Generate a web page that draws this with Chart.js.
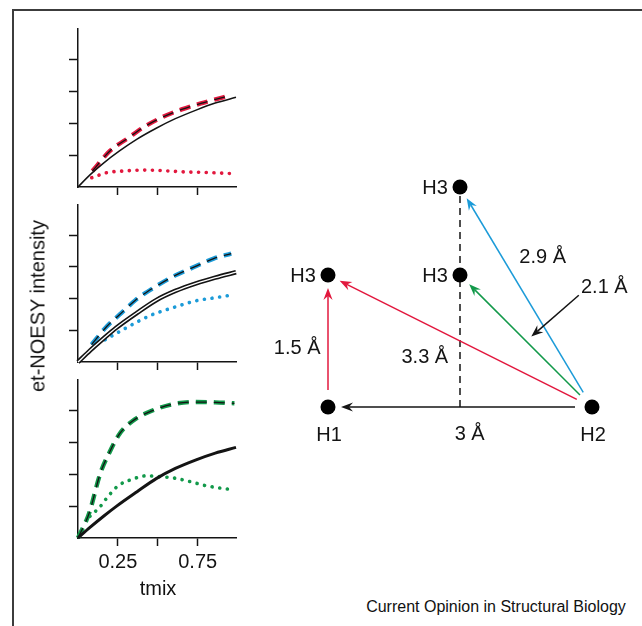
<!DOCTYPE html>
<html>
<head>
<meta charset="utf-8">
<script src="https://cdn.jsdelivr.net/npm/chart.js@4.4.1/dist/chart.umd.min.js"></script>
<style>
  body { margin: 0; background: #fff; width: 642px; height: 626px; overflow: hidden; position: relative;
         font-family: "Liberation Sans", Arial, sans-serif; color: #111; }
  .frame { position: absolute; left: 12px; top: 9px; width: 660px; height: 660px;
           border-left: 2px solid #3c3c3c; border-top: 2px solid #3c3c3c; }
  canvas { position: absolute; }
  .txt { position: absolute; white-space: nowrap; transform: translate(-50%, -50%); }
</style>
</head>
<body>
<div class="frame"></div>
<canvas id="p1"></canvas>
<canvas id="p2"></canvas>
<canvas id="p3"></canvas>
<canvas id="diagram"></canvas>
<div class="txt" style="left:38px; top:306px; font-size:20px; transform: translate(-50%, -50%) rotate(-90deg)">et-NOESY intensity</div>
<div class="txt" style="left:158px; top:588px; font-size:20px">tmix</div>
<div class="txt" style="left:496px; top:607px; font-size:16px">Current Opinion in Structural Biology</div>
<script>
// tick values / labels shared by the three build-up panels
const xTicks = [0.25, 0.5, 0.75]
const xTickLabels = ["0.25", "", "0.75"]
const yTicks = [1, 2, 3, 4]

// panel 1 (red)
const solid1X = [0, 0.075, 0.16, 0.26, 0.37, 0.49, 0.61, 0.74, 0.86, 0.99]
const solid1Y = [0, 0.38, 0.75, 1.13, 1.5, 1.84, 2.14, 2.41, 2.63, 2.81]
const dash1X = [0.09, 0.2, 0.31, 0.41, 0.53, 0.65, 0.77, 0.91, 0.96]
const dash1Y = [0.5, 1.13, 1.52, 1.87, 2.19, 2.43, 2.62, 2.81, 2.88]
const dot1X = [0.086, 0.18, 0.28, 0.43, 0.575, 0.68, 0.76, 0.875, 0.97]
const dot1Y = [0.29, 0.45, 0.5, 0.53, 0.5, 0.47, 0.46, 0.44, 0.42]

// panel 2 (blue)
const solid2X = [0, 0.075, 0.16, 0.24, 0.37, 0.49, 0.61, 0.74, 0.86, 0.99]
const solid2Y = [0, 0.36, 0.74, 1.08, 1.55, 1.95, 2.24, 2.48, 2.66, 2.83]
const dash2X = [0.085, 0.18, 0.26, 0.36, 0.43, 0.5, 0.61, 0.73, 0.85, 0.96]
const dash2Y = [0.55, 1.12, 1.49, 1.95, 2.2, 2.42, 2.73, 3.0, 3.26, 3.42]
const dot2X = [0.17, 0.3, 0.45, 0.6, 0.74, 0.85, 0.95]
const dot2Y = [0.7, 1.07, 1.46, 1.72, 1.93, 2.02, 2.1]

// panel 3 (green)
const solid3X = [0, 0.075, 0.16, 0.24, 0.37, 0.49, 0.61, 0.74, 0.86, 0.99]
const solid3Y = [0, 0.33, 0.68, 0.99, 1.45, 1.86, 2.18, 2.45, 2.66, 2.84]
const dash3X = [0, 0.07, 0.14, 0.2, 0.26, 0.34, 0.47, 0.6, 0.73, 0.86, 0.98]
const dash3Y = [0, 0.78, 2.03, 2.71, 3.26, 3.66, 4.0, 4.2, 4.26, 4.25, 4.22]
const dot3X = [0.075, 0.14, 0.18, 0.25, 0.34, 0.43, 0.49, 0.6, 0.7, 0.8, 0.97]
const dot3Y = [0.68, 0.99, 1.25, 1.63, 1.84, 1.95, 1.93, 1.88, 1.77, 1.64, 1.51]

// geometry diagram (distances in Å)
const nodeNames = ["H1", "H2", "H3", "H3", "H3"]
const nodeX = [0, 3, 0, 1.5, 1.5]
const nodeY = [0, 0, 1.5, 1.5, 2.5]
const arrowFrom = [1, 0, 1, 1, 1]
const arrowTo = [0, 2, 2, 3, 4]
const distLabels = ["1.5 Å", "3.3 Å", "3 Å", "2.9 Å", "2.1 Å"]

const RED = "#e2183e"
const BLUE = "#1c9bd8"
const GREEN = "#12994a"
const INK = "#141414"

Chart.defaults.font.family = '"Liberation Sans", Arial, sans-serif'
Chart.defaults.font.size = 20
Chart.defaults.color = INK

const pts = (xs, ys) => xs.map((x, i) => ({ x: x, y: ys[i] }))

function dotted(xs, ys, color) {
    return { data: pts(xs, ys), borderColor: color, borderWidth: 3.6, borderDash: [0.1, 7.6],
             borderCapStyle: "round", order: 3 }
}

function dashed(xs, ys, color) {
    // coloured dash with a thin dark core
    return [
        { data: pts(xs, ys), borderColor: INK, borderWidth: 1.3, borderDash: [11, 7], order: 1 },
        { data: pts(xs, ys), borderColor: color, borderWidth: 4.4, borderDash: [11, 7], order: 2 }
    ]
}

function solid(xs, ys, kind) {
    if (kind === "double")
        return [
            { data: pts(xs, ys), borderColor: "#fff", borderWidth: 1.3, order: 0 },
            { data: pts(xs, ys), borderColor: INK, borderWidth: 4.6, order: 0.5 }
        ]
    return [{ data: pts(xs, ys), borderColor: INK, borderWidth: kind === "thick" ? 3 : 1.5, order: 0.5 }]
}

function makePanel(id, top, bottom, datasets, showLabels) {
    const canvas = document.getElementById(id)
    const xh = showLabels ? 40 : 10
    canvas.width = 244
    canvas.height = bottom - top + 10 + xh
    canvas.style.left = "0px"
    canvas.style.top = (top - 10) + "px"

    datasets.forEach(d => {
        d.pointRadius = 0
        d.fill = false
        d.cubicInterpolationMode = "monotone"
        d.clip = 8
    })

    return new Chart(canvas, {
        type: "line",
        data: { datasets: datasets },
        options: {
            responsive: false,
            animation: false,
            devicePixelRatio: 1,
            layout: { autoPadding: false, padding: { left: 66, right: 8, top: 10, bottom: 0 } },
            plugins: { legend: { display: false }, tooltip: { enabled: false } },
            scales: {
                x: {
                    type: "linear", min: 0, max: 0.99,
                    afterBuildTicks: s => { s.ticks = xTicks.map(v => ({ value: v })) },
                    afterFit: s => { s.height = xh },
                    ticks: {
                        display: showLabels, padding: 4, maxRotation: 0,
                        callback: (v, i) => xTickLabels[i]
                    },
                    grid: { drawOnChartArea: false, drawTicks: true, tickLength: 8, tickWidth: 1.5, tickColor: INK },
                    border: { display: true, color: INK, width: 1.5 }
                },
                y: {
                    type: "linear", min: 0, max: 4.95,
                    afterBuildTicks: s => { s.ticks = yTicks.map(v => ({ value: v })) },
                    afterFit: s => { s.width = 12 },
                    ticks: { display: false },
                    grid: { drawOnChartArea: false, drawTicks: true, tickLength: 9, tickWidth: 1.5, tickColor: INK },
                    border: { display: true, color: INK, width: 1.5 }
                }
            }
        }
    })
}

makePanel("p1", 29, 187, [
    dotted(dot1X, dot1Y, RED), ...dashed(dash1X, dash1Y, RED), ...solid(solid1X, solid1Y, "thin")
], false)
makePanel("p2", 205, 362, [
    dotted(dot2X, dot2Y, BLUE), ...dashed(dash2X, dash2Y, BLUE), ...solid(solid2X, solid2Y, "double")
], false)
makePanel("p3", 380, 538, [
    dotted(dot3X, dot3Y, GREEN), ...dashed(dash3X, dash3Y, GREEN), ...solid(solid3X, solid3Y, "thick")
], true)

// ---------- right-hand geometry diagram ----------
const arrowColors = [INK, RED, RED, GREEN, BLUE]
// where each distance label sits, in diagram units
const distPos = [[-0.35, 0.67], [1.1, 0.56], [1.61, -0.31], [2.44, 1.7], [3.14, 1.36]]
// small pointer from the "2.1 Å" label to the green arrow
const pointer = [[2.85, 1.27], [2.31, 0.8]]

function arrowHead(ctx, x1, y1, x2, y2, color) {
    const a = Math.atan2(y2 - y1, x2 - x1)
    ctx.save()
    ctx.translate(x2, y2)
    ctx.rotate(a)
    ctx.beginPath()
    ctx.moveTo(0, 0)
    ctx.lineTo(-12, -4.6)
    ctx.lineTo(-8, 0)
    ctx.lineTo(-12, 4.6)
    ctx.closePath()
    ctx.fillStyle = color
    ctx.fill()
    ctx.restore()
}

function drawArrow(ctx, x1, y1, x2, y2, color, startGap, endGap) {
    const len = Math.hypot(x2 - x1, y2 - y1)
    const ux = (x2 - x1) / len, uy = (y2 - y1) / len
    const sx = x1 + ux * startGap, sy = y1 + uy * startGap
    const ex = x2 - ux * endGap, ey = y2 - uy * endGap
    ctx.save()
    ctx.strokeStyle = color
    ctx.lineWidth = 1.5
    ctx.beginPath()
    ctx.moveTo(sx, sy)
    ctx.lineTo(ex - ux * 8, ey - uy * 8)
    ctx.stroke()
    ctx.restore()
    arrowHead(ctx, sx, sy, ex, ey, color)
}

const diagramPlugin = {
    id: "diagram",
    beforeDatasetsDraw(chart) {
        const { ctx, scales: { x, y } } = chart
        const px = i => x.getPixelForValue(nodeX[i])
        const py = i => y.getPixelForValue(nodeY[i])

        // dashed drop line from the top H3 to the H1-H2 axis
        ctx.save()
        ctx.strokeStyle = INK
        ctx.lineWidth = 1.5
        ctx.setLineDash([7, 5])
        ctx.beginPath()
        ctx.moveTo(px(4), py(4) + 9)
        ctx.lineTo(px(4), y.getPixelForValue(0))
        ctx.stroke()
        ctx.restore()

        arrowFrom.forEach((f, i) => {
            drawArrow(ctx, px(f), py(f), px(arrowTo[i]), py(arrowTo[i]), arrowColors[i], 17, 13)
        })
        drawArrow(ctx, x.getPixelForValue(pointer[0][0]), y.getPixelForValue(pointer[0][1]),
            x.getPixelForValue(pointer[1][0]), y.getPixelForValue(pointer[1][1]), INK, 0, 0)
    },
    afterDatasetsDraw(chart) {
        const { ctx, scales: { x, y } } = chart
        ctx.save()
        ctx.font = '20px "Liberation Sans", Arial, sans-serif'
        ctx.fillStyle = INK
        ctx.textAlign = "center"
        ctx.textBaseline = "middle"
        nodeNames.forEach((name, i) => {
            const cx = x.getPixelForValue(nodeX[i]), cy = y.getPixelForValue(nodeY[i])
            if (nodeY[i] === 0) ctx.fillText(name, cx + 1, cy + 28)
            else ctx.fillText(name, cx - 25, cy + 1)
        })
        distLabels.forEach((t, i) => {
            ctx.fillText(t, x.getPixelForValue(distPos[i][0]), y.getPixelForValue(distPos[i][1]))
        })
        ctx.restore()
    }
}

const dia = document.getElementById("diagram")
dia.width = 378
dia.height = 330
dia.style.left = "262px"
dia.style.top = "140px"

new Chart(dia, {
    type: "scatter",
    data: {
        datasets: [{
            data: pts(nodeX, nodeY),
            pointRadius: 7.5,
            pointBackgroundColor: "#000",
            pointBorderWidth: 0,
            clip: false
        }]
    },
    options: {
        responsive: false,
        animation: false,
        devicePixelRatio: 1,
        layout: { autoPadding: false, padding: 0 },
        plugins: { legend: { display: false }, tooltip: { enabled: false } },
        scales: {
            x: { type: "linear", display: false, min: -0.75, max: -0.75 + 378 / 88 },
            y: { type: "linear", display: false, min: -63 / 88, max: 267 / 88 }
        }
    },
    plugins: [diagramPlugin]
})
</script>
</body>
</html>
